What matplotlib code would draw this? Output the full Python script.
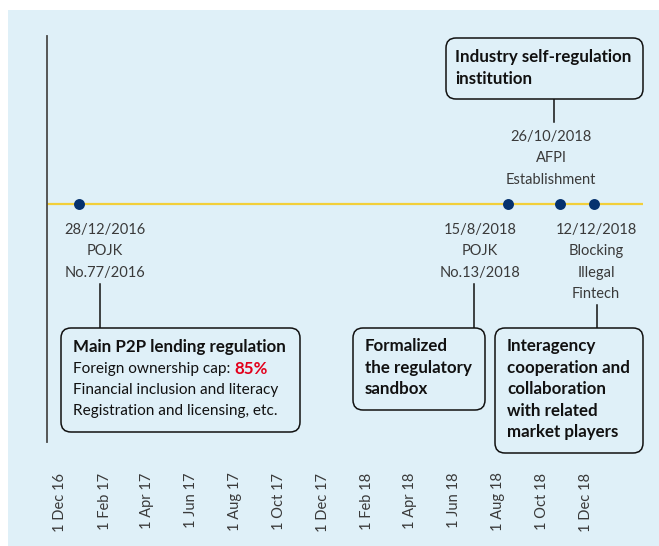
import datetime as dt

import numpy as np
import matplotlib.pyplot as plt
import matplotlib.dates as mdates
from matplotlib.patches import FancyBboxPatch, Rectangle
from matplotlib.lines import Line2D
from matplotlib.text import Annotation

plt.rcParams['font.family'] = ['Lato', 'DejaVu Sans']

## data
event_dates = ['2016-12-28', '2018-08-15', '2018-10-26', '2018-12-12']
event_labels = [['28/12/2016', 'POJK', 'No.77/2016'],
                ['15/8/2018', 'POJK', 'No.13/2018'],
                ['26/10/2018', 'AFPI', 'Establishment'],
                ['12/12/2018', 'Blocking', 'Illegal', 'Fintech']]
tick_dates = ['2016-12-01', '2017-02-01', '2017-04-01', '2017-06-01', '2017-08-01',
              '2017-10-01', '2017-12-01', '2018-02-01', '2018-04-01', '2018-06-01',
              '2018-08-01', '2018-10-01', '2018-12-01']
tick_labels = ['1 Dec 16', '1 Feb 17', '1 Apr 17', '1 Jun 17', '1 Aug 17', '1 Oct 17',
               '1 Dec 17', '1 Feb 18', '1 Apr 18', '1 Jun 18', '1 Aug 18', '1 Oct 18',
               '1 Dec 18']
box_p2p = ['Main P2P lending regulation', 'Foreign ownership cap: ', '85%',
           'Financial inclusion and literacy', 'Registration and licensing, etc.']
box_sandbox = ['Formalized', 'the regulatory', 'sandbox']
box_afpi = ['Industry self-regulation', 'institution']
box_inter = ['Interagency', 'cooperation and', 'collaboration', 'with related',
             'market players']

W, H = 659, 546
BG = '#dff0f8'
GREY = '#3a3a3a'
INK = '#111111'

fig = plt.figure(figsize=(W/100, H/100), dpi=100)
fig.patch.set_facecolor('white')
fig.patches.append(Rectangle((8/W, 0), 1, 1-10/H, transform=fig.transFigure,
                             facecolor=BG, edgecolor='none', zorder=-10))

# axes in pixel layout
ax = fig.add_axes([47/W, 1-442/H, 596/W, 406/H])
ax.set_facecolor('none')

d0 = mdates.date2num(dt.date(2016, 12, 1))
ax.set_xlim(d0 - 18.06, d0 + 809.7)
ax.set_ylim(-238, 168)

ax.axhline(0, color='#f2cf3a', lw=1.6, zorder=1)
xd = [mdates.date2num(dt.date.fromisoformat(s)) for s in event_dates]
ax.scatter(xd, np.zeros(len(xd)), s=62, color='#06326e', zorder=3, linewidths=0)

for s in ['top', 'right', 'bottom']:
    ax.spines[s].set_visible(False)
ax.spines['left'].set_color('#4a4a4a')
ax.spines['left'].set_linewidth(1.3)
ax.set_yticks([])
ax.set_xticks([mdates.date2num(dt.date.fromisoformat(s)) for s in tick_dates])
ax.set_xticklabels(tick_labels, rotation=90, fontsize=10.5, color=GREY,
                   va='top', ha='center')
ax.tick_params(axis='x', length=0, pad=22)

tr = fig.dpi_scale_trans


def ptext(x, y, s, **kw):
    return fig.text(x/100, (H-y)/100, s, transform=tr, **kw)


def pbox(x0, y0, x1, y1):
    fig.patches.append(FancyBboxPatch((x0/100, (H-y1)/100), (x1-x0)/100, (y1-y0)/100,
                                      boxstyle='round,pad=0,rounding_size=0.1',
                                      transform=tr, facecolor=BG, edgecolor=INK,
                                      lw=1.1, zorder=2))


def pline(x, y0, y1):
    fig.lines.append(Line2D([x/100, x/100], [(H-y0)/100, (H-y1)/100],
                            transform=tr, color=INK, lw=1.1))


# event labels
label_pos = [(105, 230), (480, 230), (551, 137), (596, 230)]
for lines, (lx, ly) in zip(event_labels, label_pos):
    for i, s in enumerate(lines):
        ptext(lx, ly + i*21.3, s, ha='center', va='center', fontsize=10.5,
              color=GREY)

BOLD = 12.2
REG = 11.1

# boxes and connectors
pbox(446, 38, 643, 99)
pline(554, 99, 122)
for i, s in enumerate(box_afpi):
    ptext(455, 57 + i*22.5, s, ha='left', va='center', fontsize=BOLD,
          fontweight='bold', color=INK)

pbox(61, 328, 300, 432)
pline(100, 284, 328)
ptext(73, 347, box_p2p[0], ha='left', va='center', fontsize=BOLD,
      fontweight='bold', color=INK)
t = ptext(73, 369, box_p2p[1], ha='left', va='center', fontsize=REG, color=INK)
fig.add_artist(Annotation(box_p2p[2], xy=(1, 0.5), xycoords=t, ha='left',
                          va='center', fontsize=BOLD, fontweight='bold',
                          color='#e3001b'))
ptext(73, 390, box_p2p[3], ha='left', va='center', fontsize=REG, color=INK)
ptext(73, 411, box_p2p[4], ha='left', va='center', fontsize=REG, color=INK)

pbox(353, 328, 485, 410)
pline(474, 284, 328)
for i, s in enumerate(box_sandbox):
    ptext(365, 346 + i*21.5, s, ha='left', va='center', fontsize=BOLD,
          fontweight='bold', color=INK)

pbox(495, 328, 643, 453)
pline(597, 305, 328)
for i, s in enumerate(box_inter):
    ptext(507, 346 + i*21.5, s, ha='left', va='center', fontsize=BOLD,
          fontweight='bold', color=INK)

fig.savefig('out.png', dpi=100, facecolor='white')
